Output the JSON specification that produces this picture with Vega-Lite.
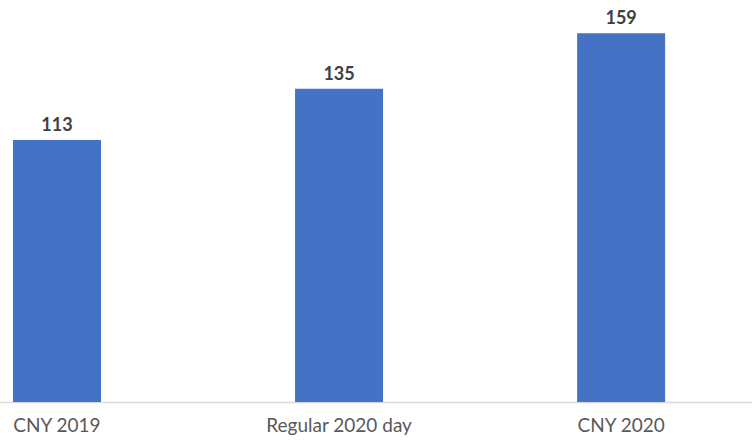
{
  "$schema": "https://vega.github.io/schema/vega-lite/v6.json",
  "width": 752,
  "height": 402,
  "autosize": {"type": "none"},
  "padding": {"left": 0, "right": 0, "top": 0, "bottom": 38},
  "background": "white",
  "config": {"view": {"stroke": null}, "font": "Lato"},
  "data": {
    "values": [
      {"period": "CNY 2019", "value": 113},
      {"period": "Regular 2020 day", "value": 135},
      {"period": "CNY 2020", "value": 159}
    ]
  },
  "encoding": {
    "x": {
      "field": "period",
      "type": "nominal",
      "sort": null,
      "scale": {"paddingInner": 0.688, "paddingOuter": 0.177, "align": 0.13},
      "axis": {
        "title": null,
        "labelAngle": 0,
        "labelFont": "Lato",
        "labelFontSize": 19,
        "labelColor": "#595959",
        "labelPadding": 14,
        "ticks": false,
        "domainColor": "#d9d9d9",
        "domainWidth": 1.5
      }
    },
    "y": {
      "field": "value",
      "type": "quantitative",
      "scale": {"domain": [0, 173.3], "nice": false},
      "axis": null
    }
  },
  "layer": [
    {"mark": {"type": "bar", "color": "#4472C4"}},
    {
      "mark": {
        "type": "text",
        "dy": -14,
        "font": "Lato",
        "fontSize": 18,
        "fontWeight": "bold",
        "color": "#404040"
      },
      "encoding": {"text": {"field": "value", "type": "quantitative"}}
    }
  ]
}
